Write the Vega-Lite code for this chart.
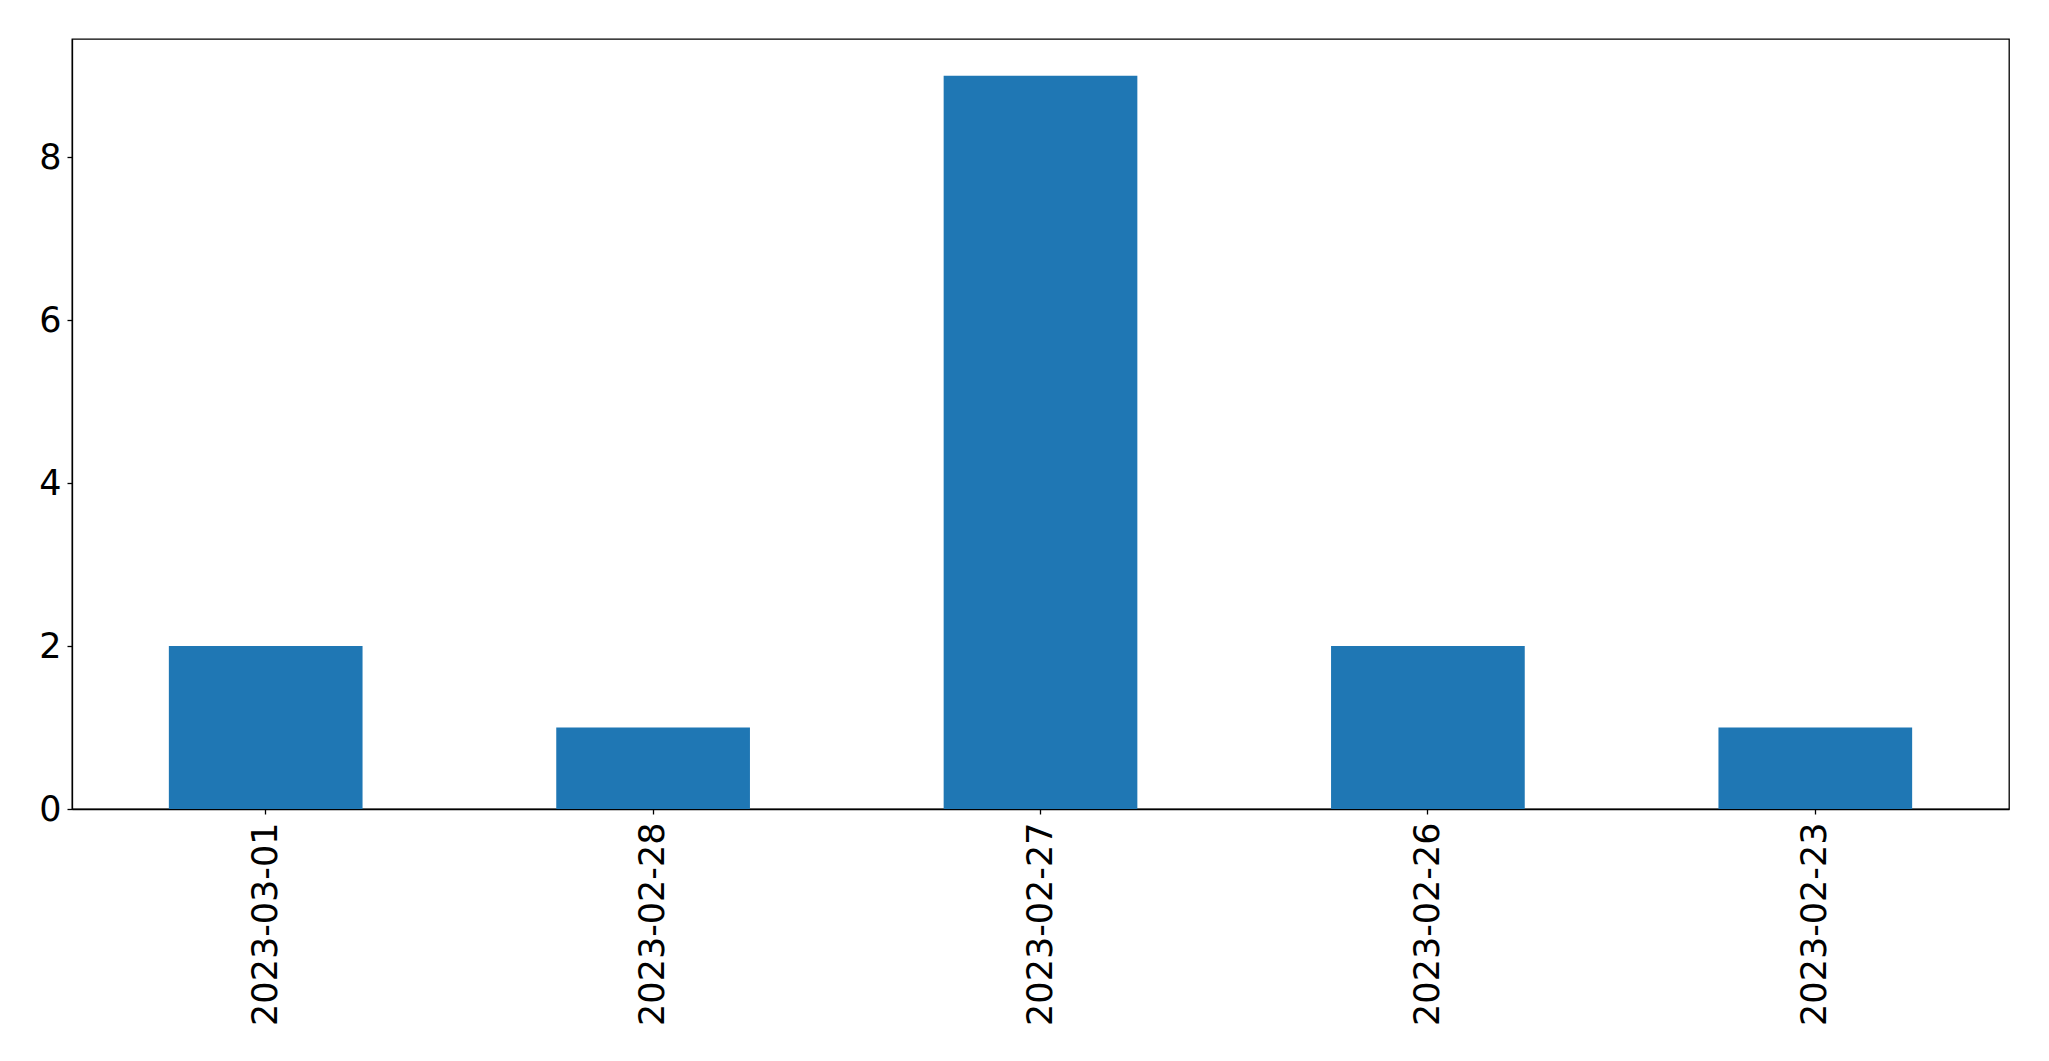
{
  "$schema": "https://vega.github.io/schema/vega-lite/v6.json",
  "autosize": "none",
  "padding": {"left": 72, "top": 39, "right": 40, "bottom": 252},
  "width": 1937,
  "height": 770,
  "background": "white",
  "config": {
    "view": {"stroke": "black", "strokeWidth": 1.3},
    "font": "DejaVu Sans"
  },
  "data": {
    "values": [
      {"date": "2023-03-01", "count": 2},
      {"date": "2023-02-28", "count": 1},
      {"date": "2023-02-27", "count": 9},
      {"date": "2023-02-26", "count": 2},
      {"date": "2023-02-23", "count": 1}
    ]
  },
  "mark": {"type": "bar", "color": "#1f77b4"},
  "encoding": {
    "x": {
      "field": "date",
      "type": "nominal",
      "sort": null,
      "scale": {"paddingInner": 0.5, "paddingOuter": 0.25},
      "axis": {
        "title": null,
        "labelAngle": -90,
        "labelAlign": "right",
        "labelBaseline": "middle",
        "labelFont": "DejaVu Sans",
        "labelFontSize": 35,
        "labelLimit": 0,
        "labelColor": "black",
        "labelPadding": 8,
        "tickColor": "black",
        "tickSize": 5,
        "tickWidth": 1.3,
        "domainColor": "black",
        "domainWidth": 1.3,
        "grid": false
      }
    },
    "y": {
      "field": "count",
      "type": "quantitative",
      "scale": {"domain": [0, 9.45], "nice": false, "zero": true},
      "axis": {
        "title": null,
        "values": [0, 2, 4, 6, 8],
        "labelFont": "DejaVu Sans",
        "labelFontSize": 35,
        "labelColor": "black",
        "labelPadding": 6,
        "tickColor": "black",
        "tickSize": 5,
        "tickWidth": 1.3,
        "domainColor": "black",
        "domainWidth": 1.3,
        "grid": false
      }
    }
  }
}
